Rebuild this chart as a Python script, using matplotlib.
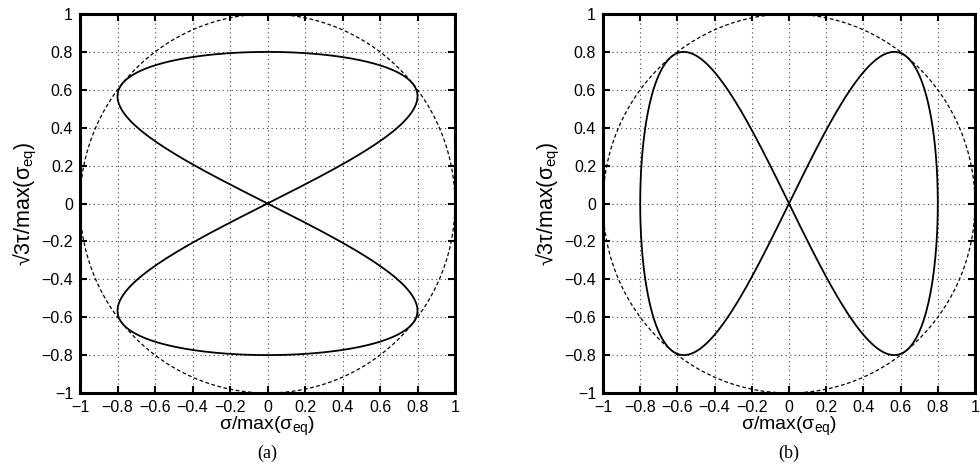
import numpy as np
import matplotlib
matplotlib.use("Agg")
import matplotlib.pyplot as plt
from matplotlib.ticker import FuncFormatter

plt.rcParams['font.family'] = ['Liberation Sans', 'DejaVu Sans']
plt.rcParams['mathtext.fontset'] = 'custom'
plt.rcParams['mathtext.rm'] = 'Liberation Sans'

# Loading-path data: amplitudes and frequency multipliers of the two signals
panels = ['(a)', '(b)']
sigma_amp = [0.8, 0.8]
tau_amp = [0.8, 0.8]
sigma_freq = [2, 1]
tau_freq = [1, 2]
circle_radius = 1.0
ticks = [-1, -0.8, -0.6, -0.4, -0.2, 0, 0.2, 0.4, 0.6, 0.8, 1]

W, H = 980, 468
fig = plt.figure(figsize=(W / 100, H / 100), dpi=100)

boxes = [(80, 14, 375, 379), (603, 14, 372, 379)]

fmt = FuncFormatter(lambda v, p: f"{v:g}".replace('-', '\u2212'))

for i, (x0, y0, w, h) in enumerate(boxes):
    ax = fig.add_axes([x0 / W, 1 - (y0 + h) / H, w / W, h / H])
    u = np.linspace(0, 2 * np.pi, 2000)
    xs = sigma_amp[i] * np.sin(sigma_freq[i] * u)
    ys = tau_amp[i] * np.sin(tau_freq[i] * u)
    th = np.linspace(0, 2 * np.pi, 1000)
    ax.plot(circle_radius * np.cos(th), circle_radius * np.sin(th), color='black',
            lw=0.9, ls=(0, (3, 2)))
    ax.plot(xs, ys, color='black', lw=1.3)
    ax.set_xlim(-1, 1)
    ax.set_ylim(-1, 1)
    ax.set_xticks(ticks)
    ax.set_yticks(ticks)
    ax.xaxis.set_major_formatter(fmt)
    ax.yaxis.set_major_formatter(fmt)
    ax.grid(True, color='black', ls=(0, (1, 3)), lw=0.8, alpha=0.75)
    ax.tick_params(direction='in', length=5, width=1.5, top=True, right=True,
                   labelsize=11.5, pad=5)
    for s in ax.spines.values():
        s.set_linewidth(2.2)
    ax.set_xlabel('\u03c3/max(\u03c3$_{\\mathrm{eq}}$)', fontsize=14, labelpad=0)
    ax.set_ylabel('\u221a3\u03c4/max(\u03c3$_{\\mathrm{eq}}$)', fontsize=15.5, labelpad=2)
    fig.text((x0 + w / 2) / W, 1 - 453 / H, panels[i], ha='center', va='center',
             fontsize=13, family=['Liberation Serif', 'DejaVu Serif'])

fig.savefig('out.png', dpi=100)
